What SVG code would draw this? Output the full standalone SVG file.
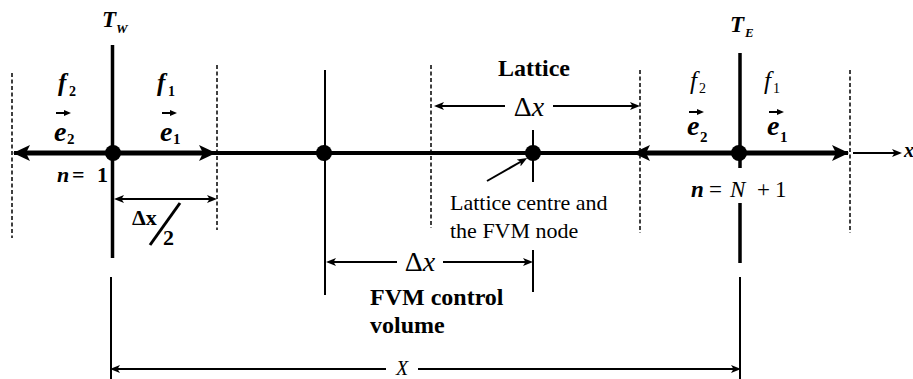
<svg xmlns="http://www.w3.org/2000/svg" width="913" height="379" viewBox="0 0 913 379" font-family="'Liberation Serif', 'DejaVu Serif', 'Times New Roman', serif">
<style>
text{font-family:'Liberation Serif','DejaVu Serif','Times New Roman',serif;fill:#000}
.b{font-weight:bold}
.i{font-style:italic}
.thin{stroke:#000;stroke-width:2;fill:none}
.dash{stroke:#000;stroke-width:1.5;stroke-dasharray:4 2.5;fill:none}
.wall{stroke:#000;stroke-width:3.5;fill:none}
.axis{stroke:#000;stroke-width:4;fill:none}
.thick{stroke:#000;stroke-width:5;fill:none}
.dot{fill:#000}
</style>
<defs>
<marker id="ah" viewBox="0 0 10 8" refX="4" refY="4" markerWidth="10" markerHeight="8" markerUnits="userSpaceOnUse" orient="auto-start-reverse"><path d="M0,0 L10,4 L0,8 L2.5,4 z" fill="#000"/></marker>
<marker id="big" viewBox="0 0 17 16" refX="9" refY="8" markerWidth="17" markerHeight="16" markerUnits="userSpaceOnUse" orient="auto-start-reverse"><path d="M0,0 L17,8 L0,16 L4,8 z" fill="#000"/></marker>
<marker id="vec" viewBox="0 0 7 6" refX="2" refY="3" markerWidth="7" markerHeight="6" markerUnits="userSpaceOnUse" orient="auto"><path d="M0,0 L7,3 L0,6 z" fill="#000"/></marker>
</defs>
<rect width="913" height="379" fill="#fff"/>

<g id="connectors">
  <line class="axis" x1="14" y1="153" x2="848" y2="153"/>
  <line class="thick" x1="113" y1="153" x2="21" y2="153" marker-end="url(#big)"/>
  <line class="thick" x1="113" y1="153" x2="208" y2="153" marker-end="url(#big)"/>
  <line class="thick" x1="739" y1="153" x2="641" y2="153" marker-end="url(#big)"/>
  <line class="thick" x1="739" y1="153" x2="841" y2="153" marker-end="url(#big)"/>
  <line class="thin" x1="853" y1="153" x2="896" y2="153" marker-end="url(#ah)"/>

  <line class="wall" x1="112.5" y1="45" x2="112.5" y2="258"/>
  <line class="wall" x1="740" y1="53" x2="740" y2="168"/>
  <line class="wall" x1="740" y1="203" x2="740" y2="263"/>

  <line class="dash" x1="12" y1="73" x2="12" y2="238"/>
  <line class="dash" x1="217" y1="65" x2="217" y2="230"/>
  <line class="dash" x1="431" y1="65" x2="431" y2="228"/>
  <line class="dash" x1="640" y1="70" x2="640" y2="233"/>
  <line class="dash" x1="850" y1="70" x2="850" y2="233"/>

  <line class="thin" x1="325" y1="70" x2="325" y2="295"/>
  <line class="thin" x1="533" y1="130" x2="533" y2="182"/>
  <line class="thin" x1="533" y1="250" x2="533" y2="292"/>

  <line class="thin" x1="120" y1="199" x2="211" y2="199" marker-start="url(#ah)" marker-end="url(#ah)"/>

  <line class="thin" x1="505" y1="106" x2="440" y2="106" marker-end="url(#ah)"/>
  <line class="thin" x1="553" y1="106" x2="634" y2="106" marker-end="url(#ah)"/>

  <line class="thin" x1="397" y1="262" x2="332" y2="262" marker-end="url(#ah)"/>
  <line class="thin" x1="443" y1="262" x2="527" y2="262" marker-end="url(#ah)"/>

  <line class="thin" x1="111" y1="277" x2="111" y2="379"/>
  <line class="thin" x1="740" y1="277" x2="740" y2="379"/>
  <line class="thin" x1="386" y1="369" x2="116" y2="369" marker-end="url(#ah)"/>
  <line class="thin" x1="418" y1="369" x2="735" y2="369" marker-end="url(#ah)"/>

  <line class="thin" x1="487" y1="181" x2="522" y2="161" marker-end="url(#ah)"/>
</g>

<g id="node-west">
  <circle class="dot" cx="113" cy="153" r="8"/>
  <text class="b i" x="102" y="27" font-size="23">T</text>
  <text class="b i" x="116" y="33" font-size="13">W</text>
  <text class="b i" x="58" y="91" font-size="25">f</text>
  <text class="b" x="69" y="96" font-size="14">2</text>
  <text class="b i" x="54" y="141" font-size="28">e</text>
  <text class="b" x="67" y="144" font-size="15">2</text>
  <line class="thin" x1="56" y1="113" x2="66" y2="113" stroke-width="1.5" marker-end="url(#vec)"/>
  <text class="b i" x="157" y="91" font-size="25">f</text>
  <text class="b" x="168" y="96" font-size="14">1</text>
  <text class="b i" x="160" y="141" font-size="28">e</text>
  <text class="b" x="173" y="144" font-size="15">1</text>
  <line class="thin" x1="162" y1="113" x2="172" y2="113" stroke-width="1.5" marker-end="url(#vec)"/>
  <text class="b" y="182" font-size="22"><tspan class="i" x="57">n</tspan><tspan x="72">=</tspan><tspan x="97">1</tspan></text>
  <text class="b" x="132" y="225" font-size="22">Δx</text>
  <line x1="150" y1="245" x2="180" y2="203" stroke="#000" stroke-width="3"/>
  <text class="b" x="163" y="245" font-size="22">2</text>
</g>

<g id="node-fvm">
  <circle class="dot" cx="324" cy="153" r="8"/>
  <text x="420" y="271" font-size="28" text-anchor="middle">Δ<tspan class="i">x</tspan></text>
  <text class="b" x="370" y="305" font-size="24">FVM control</text>
  <text class="b" x="370" y="333" font-size="24">volume</text>
</g>

<g id="node-lattice">
  <circle class="dot" cx="533" cy="153" r="8"/>
  <text class="b" x="534" y="76" font-size="24" text-anchor="middle">Lattice</text>
  <text x="529" y="116" font-size="28" text-anchor="middle">Δ<tspan class="i">x</tspan></text>
  <text x="450" y="210" font-size="22">Lattice centre and</text>
  <text x="450" y="238" font-size="22">the FVM node</text>
</g>

<g id="node-east">
  <circle class="dot" cx="739" cy="153" r="8"/>
  <text class="b i" x="730" y="32" font-size="23">T</text>
  <text class="b i" x="745" y="37" font-size="13">E</text>
  <text class="i" x="690" y="89" font-size="25">f</text>
  <text x="699" y="93" font-size="14">2</text>
  <text class="b i" x="687" y="135" font-size="28">e</text>
  <text class="b" x="700" y="142" font-size="15">2</text>
  <line class="thin" x1="689" y1="112" x2="699" y2="112" stroke-width="1.5" marker-end="url(#vec)"/>
  <text class="i" x="764" y="89" font-size="25">f</text>
  <text x="773" y="93" font-size="14">1</text>
  <text class="b i" x="767" y="135" font-size="28">e</text>
  <text class="b" x="780" y="142" font-size="15">1</text>
  <line class="thin" x1="769" y1="112" x2="779" y2="112" stroke-width="1.5" marker-end="url(#vec)"/>
  <text y="197" font-size="23"><tspan class="b i" x="691">n</tspan><tspan x="709">=</tspan><tspan class="i" x="730">N</tspan><tspan x="757">+</tspan><tspan x="775">1</tspan></text>
</g>

<g id="labels">
  <text class="b i" x="904" y="157" font-size="20">x</text>
  <text class="i" x="402" y="375" font-size="20" text-anchor="middle">X</text>
</g>
</svg>
